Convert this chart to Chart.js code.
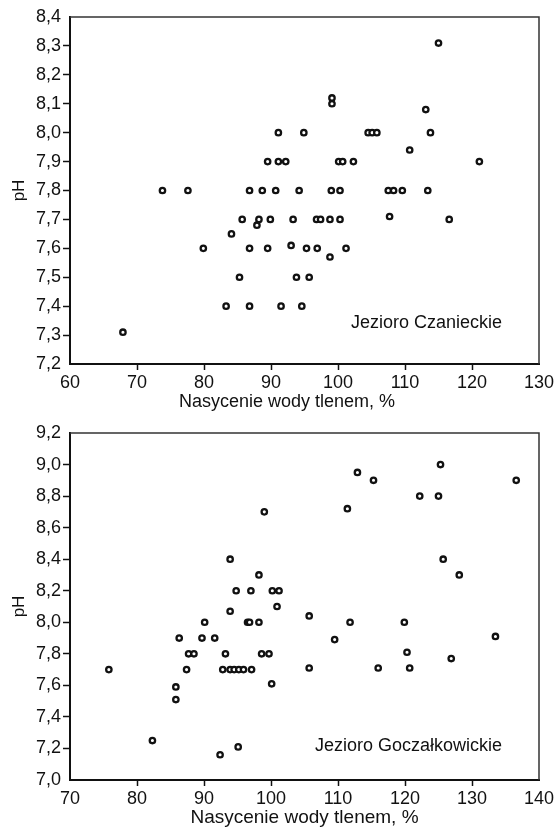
<!DOCTYPE html>
<html>
<head>
<meta charset="utf-8">
<script src="https://cdn.jsdelivr.net/npm/chart.js@4.4.1/dist/chart.umd.min.js"></script>
<style>
  html, body { margin: 0; padding: 0; background: #fff; }
  canvas { display: block; }
</style>
</head>
<body>
<canvas id="wykresCzaniec" width="558" height="413"></canvas>
<canvas id="wykresGoczalkowice" width="558" height="414"></canvas>
<script>
// Jezioro Czanieckie - nasycenie tlenem (%) i pH
const czanieckieTlen = [67.9, 73.8, 77.6, 79.9, 83.3, 84.1, 85.3, 85.7, 86.8, 86.8, 86.8, 87.9, 88.2, 88.7, 89.5, 89.5,
  89.9, 90.7, 91.1, 91.1, 91.5, 92.2, 93.0, 93.3, 93.8, 94.2, 94.6, 94.9, 95.3, 95.7, 96.8, 96.9, 97.4, 98.8, 98.8,
  99.0, 99.1, 99.1, 100.1, 100.3, 100.3, 100.7, 101.2, 102.3, 104.5, 105.1, 105.8, 107.5, 107.7, 108.3, 109.6, 110.7,
  113.1, 113.4, 113.8, 115.0, 116.6, 121.1];
const czanieckiePH = [7.31, 7.8, 7.8, 7.6, 7.4, 7.65, 7.5, 7.7, 7.8, 7.6, 7.4, 7.68, 7.7, 7.8, 7.9, 7.6,
  7.7, 7.8, 7.9, 8.0, 7.4, 7.9, 7.61, 7.7, 7.5, 7.8, 7.4, 8.0, 7.6, 7.5, 7.7, 7.6, 7.7, 7.7, 7.57,
  7.8, 8.12, 8.1, 7.9, 7.8, 7.7, 7.9, 7.6, 7.9, 8.0, 8.0, 8.0, 7.8, 7.71, 7.8, 7.8, 7.94,
  8.08, 7.8, 8.0, 8.31, 7.7, 7.9];

// Jezioro Goczałkowickie
const goczalkowickieTlen = [75.8, 82.3, 85.8, 85.8, 86.3, 87.4, 87.7, 88.5, 89.7, 90.1, 91.6, 92.4, 92.8, 93.2, 93.9,
  93.9, 93.9, 94.5, 94.8, 95.1, 95.2, 95.9, 96.5, 96.8, 97.0, 97.1, 98.2, 98.2, 98.6, 99.0, 99.7, 100.1, 100.2,
  100.9, 101.2, 105.7, 105.7, 109.5, 111.4, 111.8, 112.9, 115.3, 116.0, 119.9, 120.3, 120.7, 122.2, 125.0, 125.3,
  125.7, 126.9, 128.1, 133.5, 136.6];
const goczalkowickiePH = [7.7, 7.25, 7.59, 7.51, 7.9, 7.7, 7.8, 7.8, 7.9, 8.0, 7.9, 7.16, 7.7, 7.8, 7.7,
  8.07, 8.4, 7.7, 8.2, 7.21, 7.7, 7.7, 8.0, 8.0, 8.2, 7.7, 8.0, 8.3, 7.8, 8.7, 7.8, 7.61, 8.2,
  8.1, 8.2, 8.04, 7.71, 7.89, 8.72, 8.0, 8.95, 8.9, 7.71, 8.0, 7.81, 7.71, 8.8, 8.8, 9.0,
  8.4, 7.77, 8.3, 7.91, 8.9];

const czcionka = 'Liberation Sans';
const kolorTekstu = '#111';

// podpis jeziora w prawym dolnym rogu i ramka (góra, prawo)
const podpisJeziora = {
  id: 'podpisJeziora',
  afterDraw(chart, args, opts) {
    const { ctx, chartArea } = chart;
    ctx.save();
    ctx.strokeStyle = '#333';
    ctx.lineWidth = 1.5;
    ctx.beginPath();
    ctx.moveTo(chartArea.left, chartArea.top);
    ctx.lineTo(chartArea.right, chartArea.top);
    ctx.lineTo(chartArea.right, chartArea.bottom);
    ctx.stroke();
    ctx.font = '18px ' + czcionka;
    ctx.fillStyle = kolorTekstu;
    ctx.textAlign = 'right';
    ctx.textBaseline = 'middle';
    ctx.fillText(opts.text, chartArea.right - 37, chartArea.bottom - opts.odDolu);
    ctx.restore();
  }
};

function przecinek(value) {
  return value.toFixed(1).replace('.', ',');
}

function ukryjKonce(ctx) {
  const n = ctx.scale.ticks.length;
  return (ctx.index === 0 || ctx.index === n - 1) ? 'rgba(0,0,0,0)' : '#111';
}

function wykres(id, tlen, ph, cfg) {
  const punkty = tlen.map((x, i) => ({ x: x, y: ph[i] }));
  return new Chart(document.getElementById(id), {
    type: 'scatter',
    data: {
      datasets: [{
        data: punkty,
        pointRadius: 2.7,
        pointHoverRadius: 2.7,
        pointBorderWidth: 2.3,
        pointBackgroundColor: '#fff',
        pointBorderColor: '#111'
      }]
    },
    options: {
      responsive: false,
      animation: false,
      layout: { padding: { top: cfg.gora, right: 19, left: 0, bottom: 0 } },
      plugins: {
        legend: { display: false },
        tooltip: { enabled: false },
        podpisJeziora: { text: cfg.nazwa, odDolu: cfg.odDolu }
      },
      scales: {
        x: {
          type: 'linear',
          min: cfg.xMin,
          max: cfg.xMax,
          afterFit: (s) => { s.height = cfg.wysX; },
          border: { display: true, color: '#111', width: 2 },
          grid: { drawOnChartArea: false, drawTicks: true, tickLength: 6, tickColor: ukryjKonce, tickWidth: 1.5 },
          ticks: { stepSize: 10, padding: 2, color: kolorTekstu, font: { family: czcionka, size: 18 } },
          title: {
            display: true,
            text: cfg.tytulX,
            color: kolorTekstu,
            padding: { top: 0, bottom: cfg.padTytul },
            font: { family: czcionka, size: cfg.rozmTytul }
          }
        },
        y: {
          min: cfg.yMin,
          max: cfg.yMax,
          afterFit: (s) => { s.width = 70; },
          border: { display: true, color: '#111', width: 2 },
          grid: { drawOnChartArea: false, drawTicks: true, tickLength: 7, tickColor: ukryjKonce, tickWidth: 1.5 },
          ticks: { stepSize: cfg.yKrok, padding: 2, color: kolorTekstu, font: { family: czcionka, size: 18 }, callback: przecinek },
          title: {
            display: true,
            text: 'pH',
            color: kolorTekstu,
            padding: { top: 9, bottom: 0 },
            font: { family: czcionka, size: 17 }
          }
        }
      }
    },
    plugins: [podpisJeziora]
  });
}

wykres('wykresCzaniec', czanieckieTlen, czanieckiePH, {
  nazwa: 'Jezioro Czanieckie', odDolu: 41, gora: 17, wysX: 49,
  xMin: 60, xMax: 130, yMin: 7.2, yMax: 8.4, yKrok: 0.1,
  tytulX: 'Nasycenie wody tlenem, %' + '\u00a0'.repeat(7), rozmTytul: 18, padTytul: 0
});

wykres('wykresGoczalkowice', goczalkowickieTlen, goczalkowickiePH, {
  nazwa: 'Jezioro Goczałkowickie', odDolu: 34, gora: 20, wysX: 47,
  xMin: 70, xMax: 140, yMin: 7.0, yMax: 9.2, yKrok: 0.2,
  tytulX: 'Nasycenie wody tlenem, %', rozmTytul: 19, padTytul: -2
});
</script>
</body>
</html>
